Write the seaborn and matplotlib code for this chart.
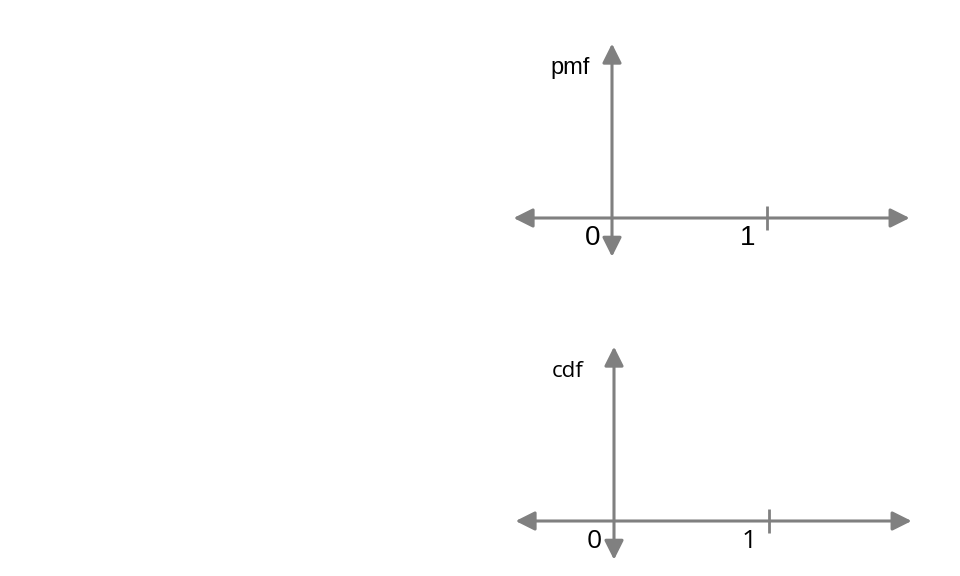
import matplotlib.pyplot as plt
import seaborn as sns

# Diagram content
panel_labels = ["pmf", "cdf"]
tick_values = [0, 1]
tick_labels = ["0", "1"]

# Layout (pixels on a 960x576 canvas)
W, H = 960, 576
UNIT = 155                       # pixels per x unit
origins = [(612, 218), (614, 521)]
label_fonts = ["Liberation Sans", "Open Sans"]
label_sizes = [17, 16]
tick_sizes = [20, 19]
GRAY = "#808080"

sns.set_style("white")
fig = plt.figure(figsize=(W / 100, H / 100), dpi=100)

arrow = dict(arrowstyle="<|-|>,head_length=0.58,head_width=0.29",
             mutation_scale=20, lw=2.2, color=GRAY, shrinkA=0, shrinkB=0)

for i, (ox, oy) in enumerate(origins):
    ax = fig.add_axes([0, 0, 1, 1])
    ax.patch.set_alpha(0)
    ax.set_xlim(-ox / UNIT, (W - ox) / UNIT)
    ax.set_ylim(-(H - oy) / UNIT, oy / UNIT)
    ax.axis("off")

    # horizontal axis
    ax.annotate("", xy=(1.92, 0), xytext=(-0.635, 0), arrowprops=arrow)
    # vertical axis
    ax.annotate("", xy=(0, 1.125), xytext=(0, -0.25), arrowprops=arrow)

    # tick mark at 1 (0 sits at the vertical axis)
    for v in tick_values[1:]:
        ax.plot([v, v], [-0.077, 0.075], color=GRAY, lw=2.0, solid_capstyle="butt")

    for v, lab in zip(tick_values, tick_labels):
        ax.text(v - 0.125, -0.174, lab, ha="center", va="baseline",
                fontsize=tick_sizes[i], family=label_fonts[i], color="black")

    ax.text(-0.40, 0.93, panel_labels[i], ha="left", va="baseline",
            fontsize=label_sizes[i], family=label_fonts[i], color="black")

fig.savefig("out.png", dpi=100)
